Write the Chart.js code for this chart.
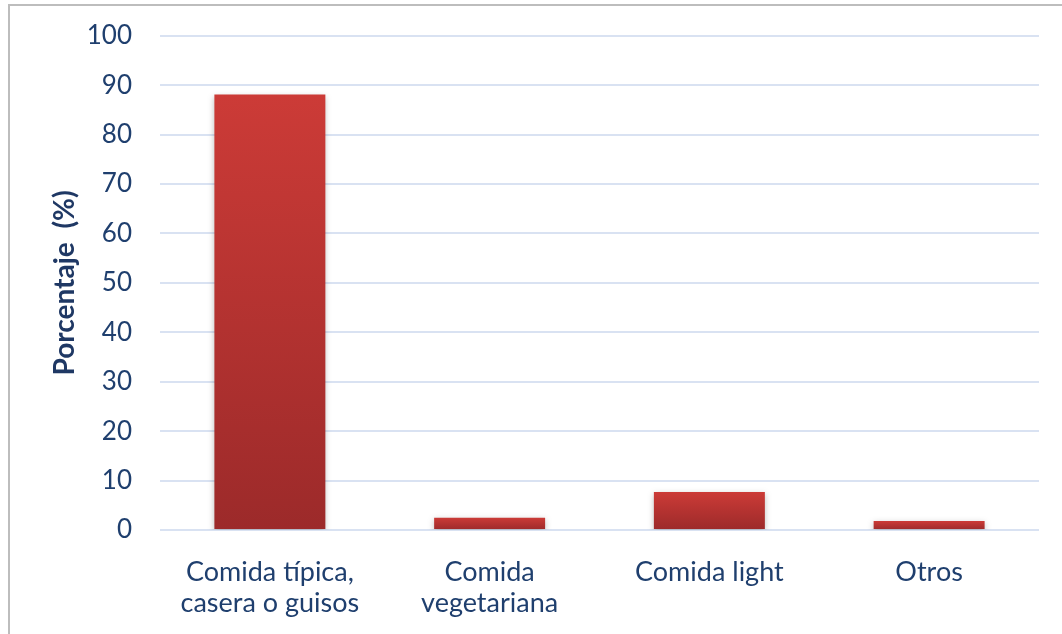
<!DOCTYPE html>
<html>
<head>
<meta charset="utf-8">
<script src="https://cdn.jsdelivr.net/npm/chart.js@4"></script>
<style>
    html, body { margin: 0; padding: 0; background: #fff; overflow: hidden; }
    #frame {
        position: absolute; left: 8px; top: 4px; width: 1100px; height: 700px;
        border: 2px solid #BDBDBD; box-sizing: border-box;
    }
    #wrap { position: absolute; left: 0; top: 0; width: 1062px; height: 634px; }
</style>
</head>
<body>
<div id="frame"></div>
<div id="wrap"><canvas id="graph" width="1062" height="634"></canvas></div>
<script>
const categories = [['Comida típica,', 'casera o guisos'], ['Comida', 'vegetariana'], 'Comida light', 'Otros'];
const values = [88.1, 2.5, 7.7, 1.8];
const yTicks = [0, 10, 20, 30, 40, 50, 60, 70, 80, 90, 100];

const textColor = '#1F3F6E';
let graph;

window.addEventListener('DOMContentLoaded', function () {
    draw();
});

// 막대마다 위에서 아래로 진해지는 그라데이션
function barColor(ctx) {
    const chart = ctx.chart;
    const y = chart.scales.y;
    if (!y || ctx.dataIndex === undefined) return '#C23834';
    const top = y.getPixelForValue(values[ctx.dataIndex]);
    const bottom = y.getPixelForValue(0);
    if (!isFinite(top) || !isFinite(bottom) || top === bottom) return '#C23834';
    const g = chart.ctx.createLinearGradient(0, top, 0, bottom);
    g.addColorStop(0, '#CC3B37');
    g.addColorStop(1, '#9C2A2A');
    return g;
}

const shadow = {
    id: 'shadow',
    beforeDatasetsDraw(chart) {
        const c = chart.ctx;
        c.save();
        c.shadowColor = 'rgba(0,0,0,0.25)';
        c.shadowBlur = 6;
        c.shadowOffsetY = 2;
    },
    afterDatasetsDraw(chart) {
        chart.ctx.restore();
    }
};

function draw() {
    const div = document.getElementById('graph');
    if (graph) {
        graph.destroy();
    }
    graph = new Chart(div, {
        type: 'bar',
        data: {
            labels: categories,
            datasets: [{
                data: values,
                backgroundColor: barColor,
                borderWidth: 0,
                barPercentage: 0.505,
                categoryPercentage: 1
            }]
        },
        options: {
            responsive: false,
            animation: false,
            layout: { padding: { top: 29, right: 23, left: 0, bottom: 0 } },
            plugins: {
                legend: { display: false },
                tooltip: { enabled: false }
            },
            scales: {
                x: {
                    grid: { display: false, drawTicks: false },
                    border: { display: false },
                    ticks: {
                        color: textColor,
                        font: { family: 'Lato', size: 27, lineHeight: 1.15 },
                        padding: 27,
                        maxRotation: 0,
                        autoSkip: false
                    },
                    afterFit(scale) { scale.height = 104; }
                },
                y: {
                    min: 0,
                    max: 100,
                    afterBuildTicks(scale) { scale.ticks = yTicks.map(v => ({ value: v })); },
                    grid: { color: '#D9E2F2', lineWidth: 2, drawTicks: false },
                    border: { display: false },
                    ticks: {
                        color: textColor,
                        font: { family: 'Lato', size: 26, lineHeight: 0.6 },
                        padding: 28
                    },
                    title: {
                        display: true,
                        text: 'Porcentaje  (%)',
                        color: '#1F3864',
                        font: { family: 'Lato', size: 28, weight: 'bold' },
                        padding: { top: 48, bottom: 0 }
                    },
                    afterFit(scale) { scale.width = 160; }
                }
            }
        },
        plugins: [shadow]
    });
}
</script>
</body>
</html>
